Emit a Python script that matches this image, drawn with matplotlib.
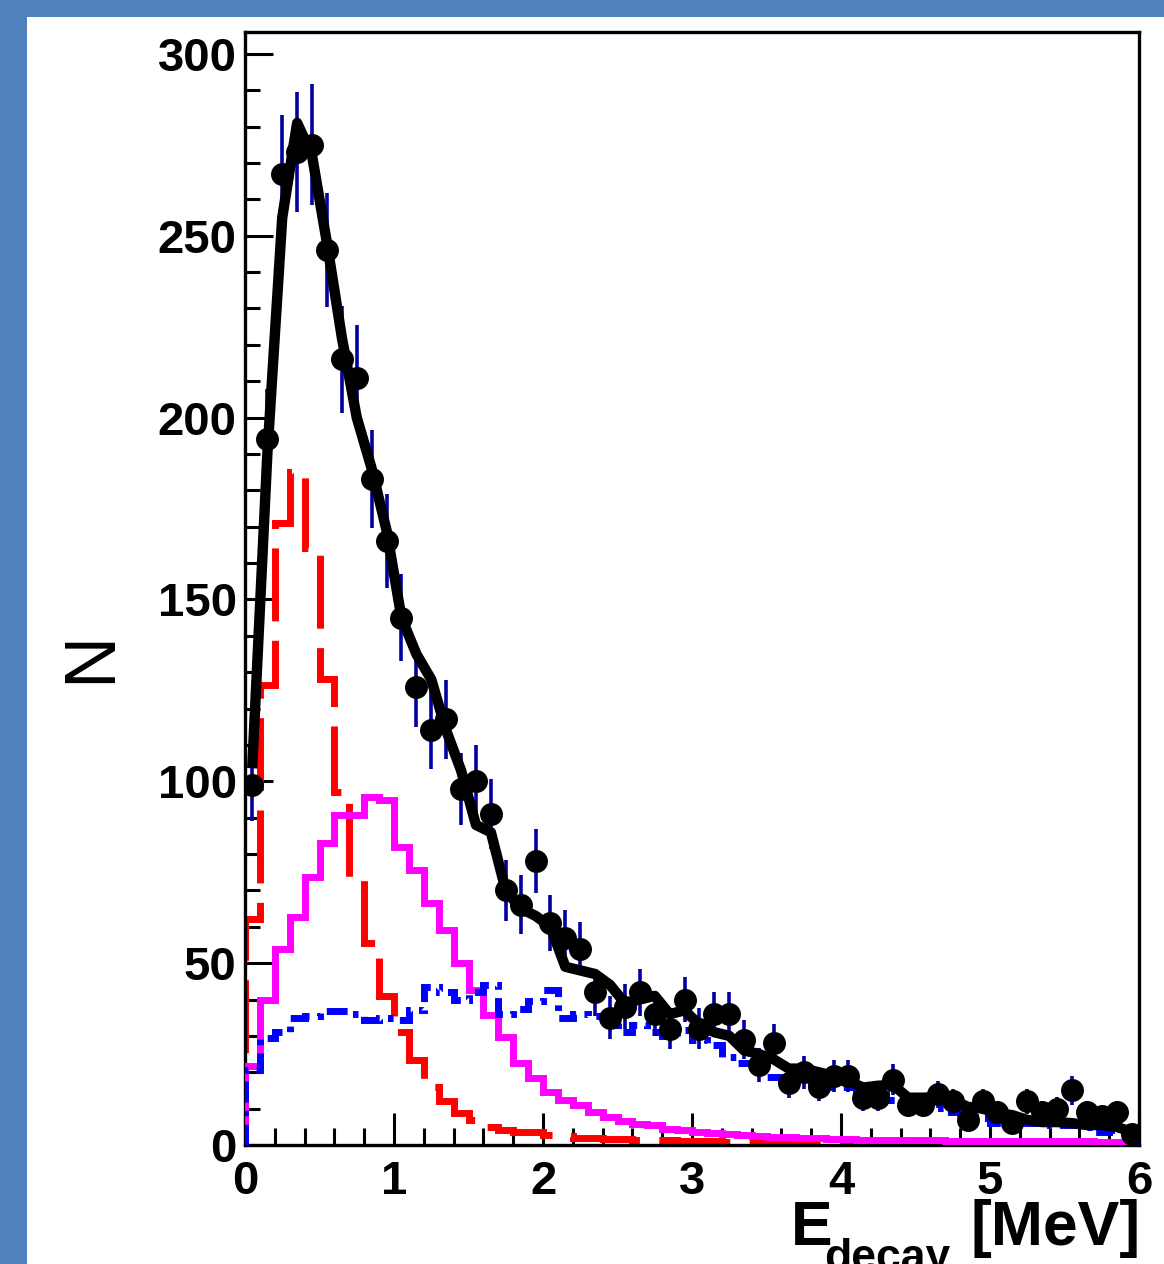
import numpy as np
import matplotlib
matplotlib.use("Agg")
import matplotlib.pyplot as plt
from matplotlib.patches import Rectangle
from matplotlib.ticker import MultipleLocator

plt.rcParams['font.family'] = ['Liberation Sans', 'DejaVu Sans']

# ---- data (bins of 0.1 MeV from 0 to 6) ----
bin_edges = np.round(np.arange(0, 6.01, 0.1), 2)
bin_centers = np.round(np.arange(0.05, 6.0, 0.1), 2)

counts = [99, 194, 267, 273, 275, 246, 216, 211, 183, 166,
          145, 126, 114, 117, 98, 100, 91, 70, 66, 78,
          61, 57, 54, 42, 35, 38, 42, 36, 32, 40,
          32, 36, 36, 29, 22, 28, 17, 20, 16, 19,
          19, 13, 13, 18, 11, 11, 14, 12, 7, 12,
          9, 6, 12, 9, 10, 15, 9, 8, 9, 3]

count_err = [10.0, 13.9, 16.3, 16.5, 16.6, 15.7, 14.7, 14.5, 13.5, 12.9,
             12.0, 11.2, 10.7, 10.8, 9.9, 10.0, 9.5, 8.4, 8.1, 8.8,
             7.8, 7.5, 7.3, 6.5, 5.9, 6.2, 6.5, 6.0, 5.7, 6.3,
             5.7, 6.0, 6.0, 5.4, 4.7, 5.3, 4.1, 4.5, 4.0, 4.4,
             4.4, 3.6, 3.6, 4.2, 3.3, 3.3, 3.7, 3.5, 2.6, 3.5,
             3.0, 2.4, 3.5, 3.0, 3.2, 3.9, 3.0, 2.8, 3.0, 1.7]

fit_total = [105, 190, 255, 281, 272, 248, 222, 200, 186, 169,
             145, 135, 128, 114, 103, 88, 86, 70, 65, 63,
             60, 49, 48, 47, 44, 39, 40, 41, 36, 37,
             33, 31, 30, 26, 25, 23.5, 21, 21, 20, 19,
             17.5, 15.8, 16.3, 16.5, 13, 13, 13.2, 12.4, 10.5, 10,
             8.7, 8.2, 6.9, 6.3, 6.3, 6, 5.5, 5.5, 5, 3.6]

comp_red = [62, 126.5, 171, 185, 164, 128, 97, 73, 55.5, 41,
            31, 23.4, 16, 12, 8.7, 6.9, 5, 4, 3.7, 3.5,
            2.7, 2.5, 2, 1.8, 1.6, 1.6, 1.5, 1.4, 1.3, 1.2,
            1.1, 1.0, 0.9, 0.8, 0.7, 0.6, 0.5, 0.5, 0.4, 0.4,
            0.3, 0.3, 0.3, 0.2, 0.2, 0.2, 0.2, 0.2, 0.1, 0.1,
            0.1, 0.1, 0.1, 0.1, 0.1, 0.1, 0.1, 0.1, 0.1, 0.1]

comp_magenta = [21.7, 40, 54, 62.8, 73.8, 83, 90.7, 90.7, 95.8, 94.9,
                82, 75.6, 66.5, 59, 50, 42.6, 35.7, 29.8, 22.5, 18.4,
                14.7, 12.4, 11, 9.2, 7.8, 6.5, 5.8, 5.5, 4.5, 4.2,
                3.6, 3.3, 2.9, 2.7, 2.5, 2.3, 2.1, 1.9, 1.8, 1.7,
                1.6, 1.5, 1.5, 1.4, 1.4, 1.3, 1.3, 1.2, 1.2, 1.2,
                1.1, 1.1, 1.1, 1.0, 1.0, 1.0, 1.0, 0.9, 0.9, 0.9]

comp_blue = [20.6, 29.4, 31.2, 35, 35.5, 36.8, 36.8, 36, 34.4, 35,
             34.4, 37, 43.5, 42, 40, 42, 44, 36, 37.5, 39.5,
             42.5, 35, 36, 35.5, 35.5, 31, 33, 31, 30, 31.5,
             29, 27.5, 24.2, 22.6, 20.5, 18.7, 18.4, 18, 16.5, 16,
             16, 14, 14, 12.5, 12.4, 11.5, 10.2, 9, 8.7, 7.5,
             6, 6.5, 6, 6, 5.5, 5.5, 5, 3.6, 4.1, 4.5]

x_ticks = [0, 1, 2, 3, 4, 5, 6]
y_ticks = [0, 50, 100, 150, 200, 250, 300]

# ---- figure ----
W, H = 1164, 1264
fig = plt.figure(figsize=(W / 100, H / 100), dpi=100)
fig.patch.set_facecolor('#4F81BD')
bg = Rectangle((27 / W, 0), 1 - 27 / W, 1 - 17 / H,
               transform=fig.transFigure, facecolor='white',
               edgecolor='none', zorder=-10)
fig.add_artist(bg)

ax = fig.add_axes([245 / W, 1 - 1145 / H, (1139 - 245) / W, (1145 - 32) / H])
ax.set_zorder(1)
ax.set_facecolor('white')

ax.stairs(comp_red, bin_edges, color='#FF0000', lw=5.0,
          linestyle=(0, (10.5, 2.8)), zorder=2)
ax.stairs(comp_magenta, bin_edges, color='#FF00FF', lw=5.0, zorder=3)
ax.stairs(comp_blue, bin_edges, color='#0000FF', lw=5.0,
          linestyle=(0, (3.0, 1.2, 0.8, 1.2)), zorder=4)

ax.errorbar(bin_centers, counts, yerr=count_err, fmt='none',
            ecolor='#0000A0', elinewidth=2.6, capsize=0, zorder=5)
ax.plot(bin_centers, fit_total, color='black', lw=7.5,
        solid_joinstyle='round', zorder=6)
ax.plot(bin_centers, counts, 'o', color='black', ms=15.5, zorder=7)

ax.set_xlim(0, 6)
ax.set_ylim(0, 306)
ax.set_xticks(x_ticks)
ax.set_yticks(y_ticks)
ax.xaxis.set_minor_locator(MultipleLocator(0.2))
ax.yaxis.set_minor_locator(MultipleLocator(10))
ax.tick_params(axis='both', which='both', direction='in', top=False, right=False,
               width=2.2, color='black')
ax.tick_params(axis='x', which='major', length=23, pad=11)
ax.tick_params(axis='x', which='minor', length=12)
ax.tick_params(axis='y', which='major', length=20, pad=6)
ax.tick_params(axis='y', which='minor', length=11)
for lab in ax.get_xticklabels() + ax.get_yticklabels():
    lab.set_fontsize(34)
    lab.set_fontweight('bold')
for sp in ax.spines.values():
    sp.set_linewidth(2.4)

fig.text(92 / W, 1 - 657 / H, 'N', rotation=90, fontsize=52,
         ha='center', va='center')
# x-axis title: E_decay [MeV]
fig.text(791 / W, 1 - 1245 / H, 'E', fontsize=45, fontweight='bold',
         ha='left', va='baseline')
fig.text(824 / W, 1 - 1270 / H, 'decay', fontsize=32, fontweight='bold',
         ha='left', va='baseline')
fig.text(1141 / W, 1 - 1245 / H, '[MeV]', fontsize=45, fontweight='bold',
         ha='right', va='baseline')

fig.savefig('out.png', dpi=100, facecolor=fig.get_facecolor())
